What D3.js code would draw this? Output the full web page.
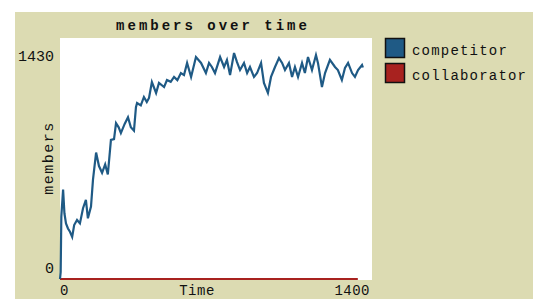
<!DOCTYPE html>
<html>
<head>
<meta charset="utf-8">
<script src="https://cdn.jsdelivr.net/npm/d3@7"></script>
<style>
  body { margin: 0; background: #fff; }
  text { font-family: "Liberation Mono", "DejaVu Sans Mono", monospace; fill: #111; }
</style>
</head>
<body>
<div id="chart"></div>
<script>
// chart data
var title = "members over time";
var xLabel = "Time", yLabel = "members";
var xTicks = [0, 1400];
var yTicks = [0, 1430];
var seriesNames = ["competitor", "collaborator"];
var seriesColors = ["#1f5a85", "#a8221f"];

var competitorTime = [0, 3, 6, 14, 20, 27, 36, 45, 55, 64, 77, 90, 104, 117, 126, 140, 149, 163, 176, 190,
  204, 216, 230, 244, 253, 265, 275, 292, 307, 320, 334, 343, 348, 365, 379, 392, 402, 415, 434, 447,
  470, 483, 500, 515, 530, 546, 560, 574, 592, 614, 637, 659, 673, 686, 700, 723, 741, 754, 768, 786,
  799, 813, 831, 845, 858, 876, 890, 908, 921, 939, 953, 971, 989, 1003, 1016, 1034, 1048, 1061, 1075, 1093,
  1106, 1120, 1138, 1156, 1165, 1183, 1197, 1219, 1242, 1255, 1273, 1287, 1301, 1319, 1332, 1346, 1364, 1368];
var competitorValues = [0, 40, 370, 530, 390, 330, 300, 280, 250, 320, 350, 330, 420, 470, 360, 430, 590, 750, 670, 630,
  680, 620, 825, 830, 925, 900, 866, 920, 960, 900, 880, 1020, 1044, 1030, 1080, 1050, 1074, 1169, 1104, 1163,
  1139, 1181, 1170, 1199, 1180, 1222, 1210, 1282, 1199, 1317, 1282, 1222, 1282, 1258, 1222, 1317, 1258, 1300, 1210, 1341,
  1288, 1240, 1282, 1222, 1258, 1199, 1222, 1282, 1163, 1104, 1199, 1258, 1311, 1282, 1240, 1282, 1199, 1258, 1199, 1282,
  1222, 1317, 1240, 1329, 1282, 1139, 1222, 1300, 1258, 1240, 1181, 1252, 1282, 1222, 1199, 1240, 1270, 1255];

var collaboratorTime = [0, 1345];
var collaboratorValues = [0, 0];

var width = 533, height = 299;
var plot = {left: 60, right: 372, top: 38, bottom: 280};

var svg = d3.select("#chart").append("svg")
  .attr("width", width)
  .attr("height", height);

// beige panel
svg.append("rect")
  .attr("x", 15).attr("y", 12)
  .attr("width", width - 15).attr("height", height - 12)
  .attr("fill", "#dcdbb2");

// white plot area
svg.append("rect")
  .attr("x", plot.left).attr("y", plot.top)
  .attr("width", plot.right - plot.left).attr("height", plot.bottom - plot.top)
  .attr("fill", "#fff");

var x = d3.scaleLinear().domain([0, 1400]).range([60, 370]);
var y = d3.scaleLinear().domain([0, 1430]).range([279, 38]);

var line = d3.line()
  .x(function(d) { return x(d[0]); })
  .y(function(d) { return y(d[1]); });

// collaborator sits on zero the whole run
svg.append("path")
  .datum(d3.zip(collaboratorTime, collaboratorValues))
  .attr("fill", "none")
  .attr("stroke", seriesColors[1])
  .attr("stroke-width", 2)
  .attr("d", line);

svg.append("path")
  .datum(d3.zip(competitorTime, competitorValues))
  .attr("fill", "none")
  .attr("stroke", seriesColors[0])
  .attr("stroke-width", 2.2)
  .attr("d", line);

// title
svg.append("text")
  .attr("x", 213).attr("y", 30)
  .attr("text-anchor", "middle")
  .attr("font-size", 14)
  .attr("font-weight", "bold")
  .attr("letter-spacing", 3)
  .text(title);

// y tick labels (top and bottom only)
svg.selectAll("text.ytick")
  .data(yTicks).enter().append("text")
  .attr("class", "ytick")
  .attr("x", 54)
  .attr("y", function(d, i) { return i == 0 ? 273 : 61; })
  .attr("text-anchor", "end")
  .attr("font-size", 15)
  .text(function(d) { return d; });

// x tick labels
svg.selectAll("text.xtick")
  .data(xTicks).enter().append("text")
  .attr("class", "xtick")
  .attr("x", function(d, i) { return i == 0 ? x(d) : 370; })
  .attr("y", 295)
  .attr("text-anchor", function(d, i) { return i == 0 ? "start" : "end"; })
  .attr("font-size", 14)
  .attr("letter-spacing", 0.5)
  .text(function(d) { return d; });

svg.append("text")
  .attr("x", 197).attr("y", 295)
  .attr("text-anchor", "middle")
  .attr("font-size", 14)
  .attr("letter-spacing", 0.5)
  .text(xLabel);

svg.append("text")
  .attr("transform", "translate(53,158) rotate(-90)")
  .attr("text-anchor", "middle")
  .attr("font-size", 15)
  .attr("letter-spacing", 1.5)
  .text(yLabel);

// legend
var legend = svg.selectAll("g.legend")
  .data(seriesNames).enter().append("g")
  .attr("class", "legend")
  .attr("transform", function(d, i) { return "translate(385," + (38 + i * 25) + ")"; });

legend.append("rect")
  .attr("x", 0.5).attr("y", 0.5)
  .attr("width", 19).attr("height", 19)
  .attr("fill", function(d, i) { return seriesColors[i]; })
  .attr("stroke", "#111")
  .attr("stroke-width", 1.5);

legend.append("text")
  .attr("x", 27).attr("y", 17)
  .attr("font-size", 14)
  .attr("letter-spacing", 1.2)
  .text(function(d) { return d; });
</script>
</body>
</html>
